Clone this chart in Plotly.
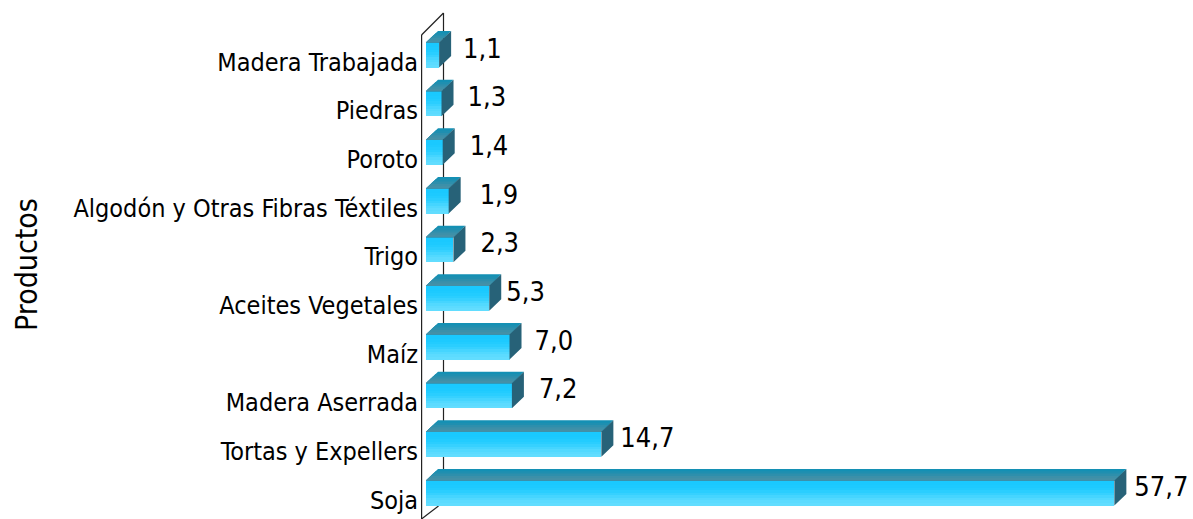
import plotly.graph_objects as go

categories = ["Soja", "Tortas y Expellers", "Madera Aserrada", "Maíz", "Aceites Vegetales",
              "Trigo", "Algodón y Otras Fibras Téxtiles", "Poroto", "Piedras", "Madera Trabajada"]
values = [57.7, 14.7, 7.2, 7.0, 5.3, 2.3, 1.9, 1.4, 1.3, 1.1]
label_gap_px = [8, 7, 15, 13, 5, 15, 19, 15, 14, 12]
axis_title = "Productos"
FONT = "DejaVu Sans Condensed, Tahoma, sans-serif"

W, H = 1193, 519
ML = 421
PX_X, X0 = 11.93, 426.0
PX_Y, Y0 = 48.67, 500.0
px_x = lambda n: n / PX_X
px_y = lambda n: n / PX_Y
xr = [(ML - X0) / PX_X, (W - X0) / PX_X]
yr = [(Y0 - H) / PX_Y, Y0 / PX_Y]

pos = list(range(len(values)))
lift = px_y(7)
bar_h = px_y(25)
dx, dy = px_x(12), px_y(11.5)

front_bands = ["#1AC9FF", "#1AC9FF", "#1DCAFF", "#22CCFF", "#2ACEFF", "#36D1FF",
               "#45D5FF", "#52D9FF", "#5CDBFF", "#62DDFF"]
top_bands = ["#1490B4", "#1F8FB0", "#2E8FAC", "#3C90A9", "#4590A7"]
side_colour = "#276278"

fig = go.Figure()

n = len(front_bands)
for k, col in enumerate(front_bands):
    h = bar_h / n
    fig.add_trace(go.Bar(
        x=values, y=[p + lift + bar_h / 2 - (k + .5) * h for p in pos],
        orientation="h", width=h * 1.04, marker=dict(color=col, line_width=0),
        showlegend=False, hoverinfo="skip"))

def poly_trace(xs, ys, col):
    fig.add_trace(go.Scatter(x=xs, y=ys, mode="lines", fill="toself", fillcolor=col,
                             line=dict(width=0, color=col), showlegend=False, hoverinfo="skip"))

m = len(top_bands)
for k, col in enumerate(top_bands):
    f0 = 1 - k / m
    xs, ys = [], []
    for v, p in zip(values, pos):
        t = p + lift + bar_h / 2
        xs += [dx * f0, v + dx * f0, v, 0, dx * f0, None]
        ys += [t + dy * f0, t + dy * f0, t, t, t + dy * f0, None]
    poly_trace(xs, ys, col)

xs, ys = [], []
for v, p in zip(values, pos):
    t = p + lift + bar_h / 2
    b = t - bar_h
    xs += [v, v + dx, v + dx, v, v, None]
    ys += [t, t + dy, b + dy, b, t, None]
poly_trace(xs, ys, side_colour)

fig.add_trace(go.Scatter(
    x=[v + dx + px_x(g) for v, g in zip(values, label_gap_px)],
    y=[p + px_y(11) for p in pos],
    mode="text", text=[f"{v:.1f}".replace(".", ",") for v in values],
    textposition="middle right", textfont=dict(family=FONT, size=27, color="#000"),
    showlegend=False, hoverinfo="skip", cliponaxis=False))

# 3D wall outline
line = dict(color="#222", width=1.2)
wall_x0 = xr[0] + px_x(0.5)
back_x = wall_x0 + px_x(22)
fig.add_shape(type="line", xref="x", yref="y", x0=back_x, x1=back_x,
              y0=(Y0 - 506) / PX_Y, y1=(Y0 - 13) / PX_Y, line=line, layer="below")
fig.add_shape(type="line", xref="x", yref="y", x0=wall_x0, x1=back_x,
              y0=(Y0 - 35) / PX_Y, y1=(Y0 - 13) / PX_Y, line=line, layer="below")
fig.add_shape(type="line", xref="x", yref="y", x0=wall_x0, x1=wall_x0 + px_x(17),
              y0=yr[0], y1=(Y0 - 506) / PX_Y, line=line, layer="below")
fig.add_shape(type="line", xref="x", yref="y", x0=wall_x0, x1=wall_x0,
              y0=yr[0], y1=(Y0 - 35) / PX_Y, line=dict(color="#222", width=1.4), layer="below")

fig.add_annotation(text=axis_title, xref="paper", yref="y", x=-ML / (W - ML) + 26 / (W - ML),
                   y=(Y0 - 264) / PX_Y, textangle=-90, showarrow=False, xanchor="center",
                   yanchor="middle", font=dict(family=FONT, size=30, color="#000"))

fig.update_layout(
    width=W, height=H, autosize=False, barmode="overlay", bargap=0,
    paper_bgcolor="white", plot_bgcolor="white",
    margin=dict(l=ML, r=0, t=0, b=0), showlegend=False,
    xaxis=dict(range=xr, visible=False, fixedrange=True),
    yaxis=dict(range=yr, tickmode="array", tickvals=pos, ticktext=categories,
               showgrid=False, zeroline=False, showline=False, ticks="", automargin=False,
               ticklabelstandoff=2, tickfont=dict(family=FONT, size=25, color="#000")),
)
fig.write_html("out.html", config={"displayModeBar": False},
               post_script="document.body.style.margin='0';document.body.style.overflow='hidden';")
